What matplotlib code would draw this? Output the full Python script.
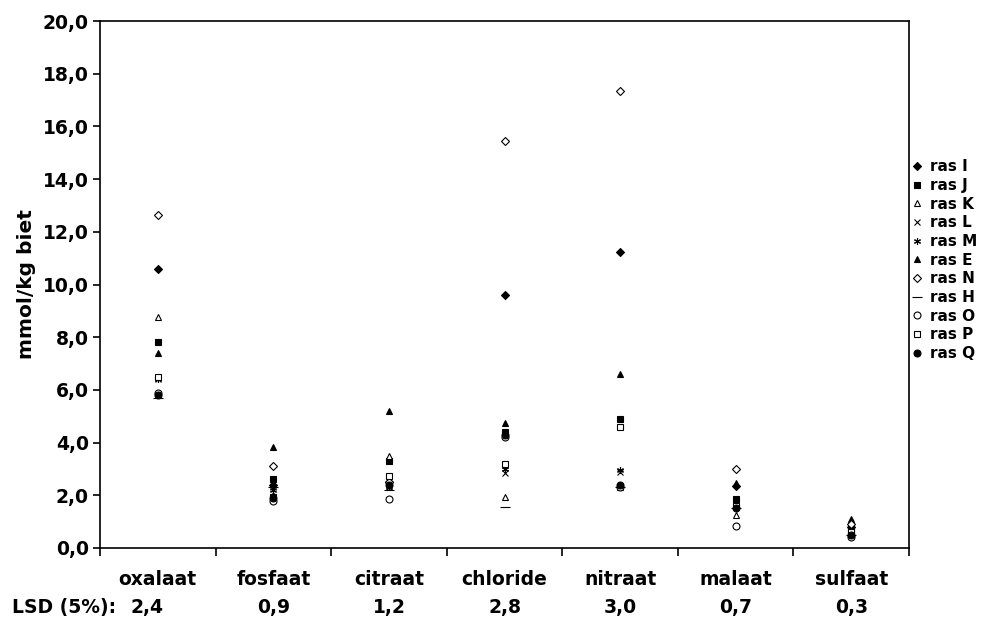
import matplotlib
matplotlib.use("Agg")
import matplotlib.pyplot as plt
from matplotlib.ticker import FuncFormatter
from matplotlib.transforms import blended_transform_factory

plt.rcParams['font.family'] = ['DejaVu Sans']
plt.rcParams['font.weight'] = 'bold'

categories = ['oxalaat', 'fosfaat', 'citraat', 'chloride', 'nitraat', 'malaat', 'sulfaat']
lsd = ['2,4', '0,9', '1,2', '2,8', '3,0', '0,7', '0,3']

ras_I = [10.6, 2.4, 2.5, 9.6, 11.25, 2.35, 0.8]
ras_J = [7.8, 2.6, 3.3, 4.4, 4.9, 1.85, 0.7]
ras_K = [8.75, 2.0, 3.5, 1.95, 2.3, 1.25, 0.6]
ras_L = [6.4, 2.3, 2.3, 2.85, 2.9, 1.6, 0.6]
ras_M = [6.4, 2.2, 2.3, 3.0, 2.95, 1.7, 0.7]
ras_E = [7.4, 3.85, 5.2, 4.75, 6.6, 2.45, 1.1]
ras_N = [12.65, 3.1, 2.5, 15.45, 17.35, 3.0, 0.9]
ras_H = [5.7, 2.3, 2.2, 1.55, 2.3, 1.5, 0.5]
ras_O = [5.9, 1.8, 1.85, 4.2, 2.3, 0.83, 0.4]
ras_P = [6.5, 1.95, 2.75, 3.2, 4.6, 1.6, 0.6]
ras_Q = [5.8, 1.9, 2.4, 4.3, 2.4, 1.5, 0.5]

# (label, values, marker, filled)
series = [
    ("ras I", ras_I, "D", True),
    ("ras J", ras_J, "s", True),
    ("ras K", ras_K, "^", False),
    ("ras L", ras_L, "x", True),
    ("ras M", ras_M, (6, 2, 0), True),
    ("ras E", ras_E, "^", True),
    ("ras N", ras_N, "D", False),
    ("ras H", ras_H, "_", True),
    ("ras O", ras_O, "o", False),
    ("ras P", ras_P, "s", False),
    ("ras Q", ras_Q, "o", True),
]

fig = plt.figure(figsize=(9.91, 6.22), dpi=100)
ax = fig.add_axes([100 / 991, 74 / 622, 809 / 991, 527 / 622])

x = list(range(len(categories)))
for label, vals, m, filled in series:
    ms = 5
    if m == "D":
        ms = 4.5
    if m == "_":
        ms = 7
    ax.plot(x, vals, linestyle="none", marker=m, markersize=ms,
            markerfacecolor="black" if filled else "white",
            markeredgecolor="black", markeredgewidth=0.8, label=label)

ax.set_xlim(-0.5, len(categories) - 0.5)
ax.set_ylim(0, 20)
ax.set_yticks([i * 2 for i in range(11)])
ax.yaxis.set_major_formatter(FuncFormatter(lambda v, p: ("%.1f" % v).replace(".", ",")))
ax.tick_params(axis="y", direction="out", length=5, width=1.2, labelsize=13.5, pad=3)
for t in ax.get_yticklabels():
    t.set_fontweight("bold")

ax.set_xticks([i - 0.5 for i in range(len(categories) + 1)])
ax.set_xticklabels([])
ax.tick_params(axis="x", which="major", direction="out", length=6, width=1.2)
ax.set_xticks(x, minor=True)
ax.set_xticklabels(categories, minor=True, fontsize=13.5, fontweight="bold")
ax.tick_params(axis="x", which="minor", length=0, pad=16)

for s in ax.spines.values():
    s.set_linewidth(1.2)

# LSD row under the category names
trans = blended_transform_factory(ax.transData, fig.transFigure)
for xi, v in zip(x[1:], lsd[1:]):
    ax.text(xi, 14 / 622, v, transform=trans, ha="center", va="center",
            fontsize=13.5, fontweight="bold")
fig.text(12 / 991, 14 / 622, "LSD (5%):", ha="left", va="center",
         fontsize=13.5, fontweight="bold")
fig.text(147 / 991, 14 / 622, lsd[0], ha="center", va="center",
         fontsize=13.5, fontweight="bold")

ax.set_ylabel("mmol/kg biet", fontsize=14.5, fontweight="bold", labelpad=5)

ax.legend(loc="center left", bbox_to_anchor=(1.0, 0.546), frameon=False,
          prop={"size": 11, "weight": "bold"}, handlelength=0.7,
          handletextpad=0.45, labelspacing=0.24, borderaxespad=0.0,
          borderpad=0.2)

fig.savefig("out.png", dpi=100)
